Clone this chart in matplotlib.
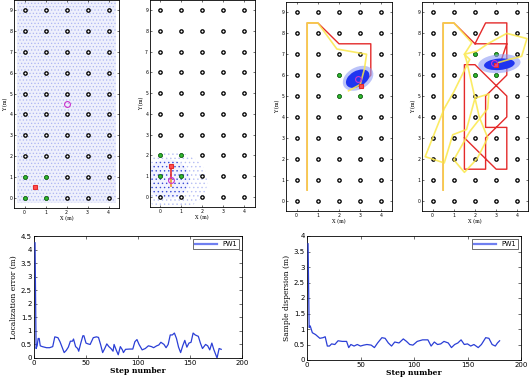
import numpy as np
import matplotlib
matplotlib.use("Agg")
import matplotlib.pyplot as plt
from matplotlib.patches import Ellipse, Rectangle

# ---------------- data ----------------
grid_x = [0, 1, 2, 3, 4]
grid_y = [0, 1, 2, 3, 4, 5, 6, 7, 8, 9]

# panel 1
p1_green_x = [0, 1, 0, 1]
p1_green_y = [0, 0, 1, 1]
p1_true = (0.5, 0.5)
p1_est = (2.0, 4.5)

# panel 2
p2_green_x = [0, 1, 0, 1]
p2_green_y = [1, 1, 2, 2]
p2_true = (0.5, 1.5)
p2_est = (0.5, 0.8)
p2_red_x = [0.5, 0.5]
p2_red_y = [0.5, 1.5]
p2_yel_x = [0.5, 0.5]
p2_yel_y = [0.5, 0.8]

# panel 3
p3_green_x = [2, 2, 3, 3]
p3_green_y = [5, 6, 5, 6]
p3_true = (3.05, 5.5)
p3_est = (2.88, 5.8)
p3_red_x = [0.5, 0.5, 1.0, 2.0, 3.5, 3.5, 3.05]
p3_red_y = [0.5, 8.5, 8.5, 7.5, 7.5, 6.0, 5.5]
p3_yel_x = [0.5, 0.5, 1.0, 1.9, 3.3, 3.2, 3.0, 2.45]
p3_yel_y = [0.5, 8.5, 8.5, 7.25, 7.0, 6.3, 5.55, 5.25]

# panel 4
p4_green_x = [2, 3, 2, 3]
p4_green_y = [6, 6, 7, 7]
p4_true = (3.0, 6.5)
p4_est = (2.9, 6.6)
nan = np.nan
p4_red_x = [0.5, 0.5, 1.0, 2.0, 3.5, 3.5, 2.5, 2.5, 3.5, 3.5, 3.0, 1.5, 1.5, 2.0, 3.5, 3.5, 3.0, 2.5, 2.5, 1.5, 1.5,
            nan, 2.0, 2.5, 3.5, 3.5, 3.2]
p4_red_y = [0.5, 8.5, 8.5, 7.5, 7.5, 6.0, 5.0, 3.5, 3.5, 1.5, 1.5, 3.0, 6.5, 6.5, 5.0, 4.0, 3.5, 3.0, 1.5, 1.5, 3.0,
            nan, 7.5, 8.5, 8.5, 7.5, 6.6]
p4_yel_x = [0.5, 0.5, 1.0, 1.85, 1.5, 1.75, 1.0, 0.55, -0.35, 0.55, 0.95, 1.6, 2.0, 2.65, 2.6, 1.75, 1.0, 1.5,
            2.1, 2.6, 2.2, 1.6, 1.5, 2.1, 2.6, 3.5, 4.45, 4.2, 3.6, 3.1]
p4_yel_y = [0.5, 8.5, 8.5, 7.55, 7.0, 6.75, 5.2, 4.4, 2.1, 1.8, 3.15, 3.4, 4.9, 5.1, 4.4, 3.3, 1.95, 1.35,
            2.0, 3.0, 4.0, 6.7, 7.0, 7.15, 7.5, 8.0, 7.75, 6.9, 6.75, 6.6]

# bottom-left: localization error
le_step = [1, 2, 3, 4, 5, 6, 8, 12, 15, 18, 20, 23, 25, 27, 29, 31, 33, 35, 37, 38, 40, 42, 43, 45, 47, 48, 50,
           52, 54, 57, 60, 62, 64, 66, 68, 70, 72, 74, 76, 77, 79, 81, 83, 85, 86, 88, 92, 95, 97, 99, 101, 104,
           107, 110, 113, 115, 118, 120, 122, 125, 127, 129, 131, 133, 135, 137, 139, 141, 143, 145, 147, 149,
           151, 153, 155, 158, 160, 162, 165, 167, 169, 171, 173, 175, 176, 178, 180]
le_val = [4.25, 0.35, 0.45, 0.72, 0.72, 0.45, 0.42, 0.38, 0.38, 0.42, 0.78, 0.75, 0.6, 0.4, 0.2, 0.28, 0.4,
          0.62, 0.62, 0.7, 0.42, 0.35, 0.25, 0.55, 0.82, 0.82, 0.55, 0.52, 0.5, 0.75, 0.78, 0.76, 0.5, 0.2,
          0.35, 0.52, 0.42, 0.35, 0.25, 0.5, 0.3, 0.12, 0.42, 0.3, 0.2, 0.32, 0.33, 0.33, 0.6, 0.68, 0.5, 0.3,
          0.35, 0.45, 0.42, 0.38, 0.45, 0.48, 0.58, 0.5, 0.38, 0.5, 0.85, 0.85, 0.92, 0.72, 0.4, 0.2, 0.45,
          0.65, 0.4, 0.55, 0.58, 0.92, 0.85, 0.8, 0.55, 0.35, 0.5, 0.45, 0.3, 0.55, 0.3, 0.1, 0.0, 0.35, 0.32]

# bottom-right: sample dispersion
sd_step = [1, 2, 3, 5, 8, 12, 15, 17, 19, 21, 23, 26, 29, 33, 37, 39, 41, 44, 47, 50, 53, 56, 60, 63, 66, 70,
           73, 76, 79, 82, 86, 90, 93, 96, 99, 103, 108, 113, 116, 119, 122, 125, 128, 132, 135, 138, 141, 144,
           147, 150, 153, 156, 160, 163, 167, 170, 173, 176, 178, 180]
sd_val = [3.75, 1.05, 1.1, 0.88, 0.82, 0.7, 0.72, 0.75, 0.45, 0.45, 0.52, 0.5, 0.62, 0.6, 0.6, 0.4, 0.5, 0.45,
          0.5, 0.45, 0.48, 0.5, 0.48, 0.4, 0.55, 0.72, 0.7, 0.55, 0.45, 0.58, 0.55, 0.68, 0.6, 0.5, 0.48, 0.6,
          0.65, 0.65, 0.45, 0.58, 0.5, 0.52, 0.6, 0.55, 0.4, 0.5, 0.55, 0.65, 0.5, 0.52, 0.45, 0.5, 0.4, 0.5,
          0.72, 0.7, 0.5, 0.45, 0.55, 0.62]

# ---------------- style ----------------
plt.rcParams['hatch.linewidth'] = 0.5
fig = plt.figure(figsize=(5.30, 3.82), dpi=100)

RED = '#e42a2a'
YEL = '#fbe84a'
BLUE_LINE = '#2b3fd6'

top_rects = [
    [14 / 530, 1 - 208 / 382, 105 / 530, 208 / 382],
    [149.8 / 530, 1 - 207 / 382, 105 / 530, 207 / 382],
    [286 / 530, 1 - 211 / 382, 106 / 530, 209 / 382],
    [422 / 530, 1 - 211 / 382, 106 / 530, 209 / 382],
]


def base_panel(ax):
    ax.set_xlim(-0.5, 4.5)
    ax.set_ylim(-0.5, 9.5)
    ax.set_xticks(grid_x)
    ax.set_yticks(grid_y)
    ax.tick_params(direction='in', length=1.5, width=0.4, labelsize=3.3, pad=1.2,
                   top=True, right=True)
    for s in ax.spines.values():
        s.set_linewidth(0.6)
    ax.set_xlabel('X (m)', fontsize=3.6, family='DejaVu Serif', labelpad=0.8)
    ax.set_ylabel('Y (m)', fontsize=3.6, family='DejaVu Serif', labelpad=1.0)


def grid_points(ax):
    gx, gy = np.meshgrid(grid_x, grid_y)
    ax.plot(gx.ravel(), gy.ravel(), 'o', ms=2.4, mfc='white', mec='black', mew=0.95,
            linestyle='none', zorder=4)


def greens(ax, xs, ys):
    ax.plot(xs, ys, 'o', ms=2.6, mfc='#33bb33', mec='#1a8a1a', mew=0.6, linestyle='none', zorder=5)


def markers(ax, true_pt, est_pt, sq=3.2):
    ax.plot([true_pt[0]], [true_pt[1]], 's', ms=sq, mfc='#ff5050', mec=RED, mew=0.8, zorder=7)
    ax.plot([est_pt[0]], [est_pt[1]], 'o', ms=4.2, mfc='none', mec='#cc33cc', mew=0.8, zorder=7)


# Panel 1: uniformly spread particles shown as a light speckled region
ax1 = fig.add_axes(top_rects[0])
base_panel(ax1)
ax1.add_patch(Rectangle((-0.35, -0.25), 4.7, 9.7, facecolor='#eef0fc', edgecolor='#aeb6f2',
                        linewidth=0, hatch='.....', zorder=1))
grid_points(ax1)
greens(ax1, p1_green_x, p1_green_y)
markers(ax1, p1_true, p1_est)

# Panel 2
ax2 = fig.add_axes(top_rects[1])
base_panel(ax2)
ax2.add_patch(Ellipse((0.6, 0.75), 3.3, 2.8, facecolor='none', edgecolor='#b8c0f4', linewidth=0,
                      hatch='....', zorder=1))
ax2.add_patch(Ellipse((0.35, 0.85), 2.1, 1.9, facecolor='#f2f3ff', edgecolor='#3a4cd8', linewidth=0,
                      hatch='....', zorder=2))
grid_points(ax2)
greens(ax2, p2_green_x, p2_green_y)
ax2.plot(p2_red_x, p2_red_y, color=RED, lw=1.2, zorder=6)
ax2.plot(p2_yel_x, p2_yel_y, color=YEL, lw=1.2, alpha=0.7, zorder=6)
markers(ax2, p2_true, p2_est)

# Panel 3
ax3 = fig.add_axes(top_rects[2])
base_panel(ax3)
grid_points(ax3)
greens(ax3, p3_green_x, p3_green_y)
ax3.plot(p3_red_x, p3_red_y, color=RED, lw=1.0, zorder=3)
ax3.add_patch(Ellipse((2.9, 5.85), 1.55, 1.05, angle=30, facecolor='#8f9cf5', edgecolor='none',
                      alpha=0.6, zorder=5))
ax3.add_patch(Ellipse((2.88, 5.83), 1.2, 0.75, angle=30, facecolor='#1f35f0', edgecolor='none',
                      zorder=5))
ax3.plot(p3_yel_x, p3_yel_y, color=YEL, lw=1.2, alpha=0.85, zorder=6)
markers(ax3, p3_true, p3_est, sq=2.2)

# Panel 4
ax4 = fig.add_axes(top_rects[3])
base_panel(ax4)
grid_points(ax4)
greens(ax4, p4_green_x, p4_green_y)
ax4.plot(p4_red_x, p4_red_y, color=RED, lw=1.0, zorder=3)
ax4.add_patch(Ellipse((3.15, 6.55), 2.0, 0.9, angle=5, facecolor='#8f9cf5', edgecolor='none',
                      alpha=0.6, zorder=5))
ax4.add_patch(Ellipse((3.15, 6.52), 1.45, 0.55, angle=5, facecolor='#1f35f0', edgecolor='none',
                      zorder=5))
ax4.plot(p4_yel_x, p4_yel_y, color=YEL, lw=1.2, alpha=0.85, zorder=6)
markers(ax4, p4_true, p4_est, sq=2.6)


# Bottom panels
def bottom_panel(rect, xs, ys, ymax, yticks, ylabel):
    ax = fig.add_axes(rect)
    ax.plot(xs, ys, color=BLUE_LINE, lw=0.9, label='PW1', zorder=3)
    ax.set_xlim(0, 200)
    ax.set_ylim(0, ymax)
    ax.set_xticks([0, 50, 100, 150, 200])
    ax.set_yticks(yticks)
    ax.set_yticklabels([('%g' % t) for t in yticks])
    ax.tick_params(direction='in', length=2, width=0.4, labelsize=5, pad=1.5, top=True, right=True)
    for s in ax.spines.values():
        s.set_linewidth(0.6)
    ax.set_xlabel('Step number', fontsize=5.5, family='DejaVu Serif', fontweight='bold', labelpad=1)
    ax.set_ylabel(ylabel, fontsize=5.5, family='DejaVu Serif', labelpad=2)
    leg = ax.legend(loc='upper right', fontsize=4.8, handlelength=3.2, borderpad=0.3,
                    frameon=True, fancybox=False, edgecolor='black', borderaxespad=0.5)
    leg.get_frame().set_linewidth(0.5)
    for l in leg.get_lines():
        l.set_linewidth(1.6)
        l.set_color('#6f7ff0')
    return ax


bottom_panel([34 / 530, 1 - 358 / 382, 208 / 530, 122 / 382], le_step, le_val, 4.5,
             [0, 0.5, 1, 1.5, 2, 2.5, 3, 3.5, 4, 4.5], 'Localization error (m)')
bottom_panel([307 / 530, 1 - 360 / 382, 214 / 530, 124 / 382], sd_step, sd_val, 4,
             [0, 0.5, 1, 1.5, 2, 2.5, 3, 3.5, 4], 'Sample dispersion (m)')

fig.savefig('out.png', dpi=100)
